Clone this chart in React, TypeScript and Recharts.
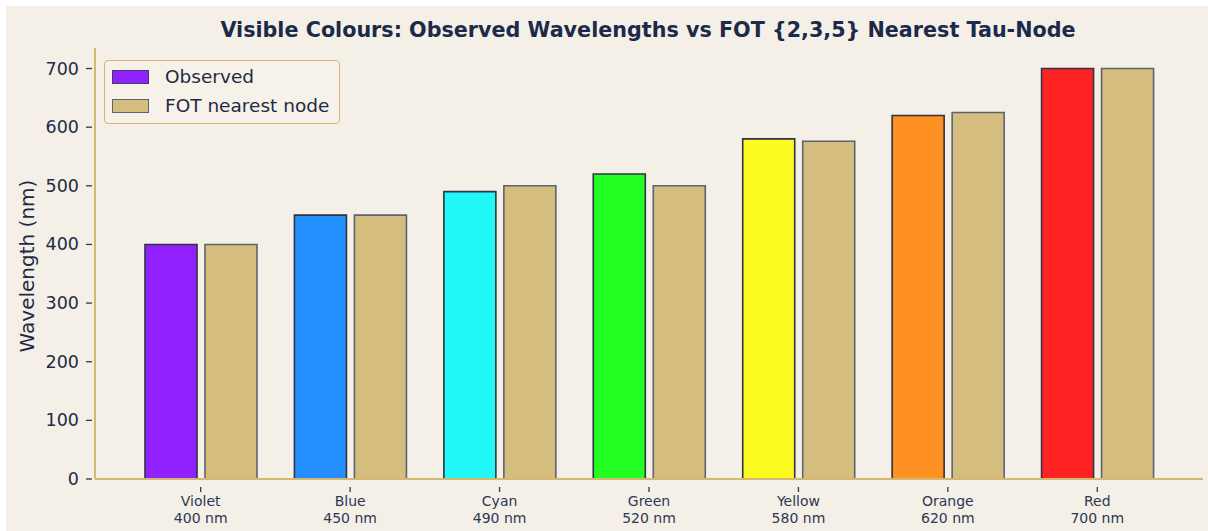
import { BarChart, Bar, XAxis, YAxis, Cell } from 'recharts';

const colourNames = ['Violet', 'Blue', 'Cyan', 'Green', 'Yellow', 'Orange', 'Red'];
const observedNm = [400, 450, 490, 520, 580, 620, 700];
const fotNodeNm = [400, 450, 500, 500, 576, 625, 700];
const observedFills = ['#9122ff', '#2490ff', '#22f7f7', '#22ff22', '#fbfb22', '#ff9122', '#ff2222'];
const yTicks = [0, 100, 200, 300, 400, 500, 600, 700];

const data = colourNames.map((name, i) => ({
    name,
    observed: observedNm[i],
    fot: fotNodeNm[i],
}));

const FONT = '"DejaVu Sans", sans-serif';
const INK = '#1f2a44';
const GOLD = '#d6b870';
const BG = '#f4efe7';
const FOT_FILL = '#d5bd7d';

function XTick(props: any) {
    const { x, y, payload, index } = props;
    return (
        <g transform={`translate(${x},${y})`}>
            <line x1={0} y1={0} x2={0} y2={5} stroke="#2e3852" strokeWidth={1.3} />
            <text textAnchor="middle" fill="#2e3852" fontFamily={FONT} fontSize={14}>
                <tspan x={0} y={19}>{payload.value}</tspan>
                <tspan x={0} y={36}>{`${observedNm[index]} nm`}</tspan>
            </text>
        </g>
    );
}

function YTick(props: any) {
    const { x, y, payload } = props;
    return (
        <g transform={`translate(${x},${y})`}>
            <line x1={-1} y1={0} x2={5} y2={0} stroke="#2e3852" strokeWidth={1.3} />
            <text x={-8} y={6} textAnchor="end" fill={INK} fontFamily={FONT} fontSize={17.5}>
                {payload.value}
            </text>
        </g>
    );
}

function LegendBox() {
    const items = [
        { label: 'Observed', fill: observedFills[0], stroke: '#3a3f55' },
        { label: 'FOT nearest node', fill: FOT_FILL, stroke: '#5c6373' },
    ];
    return (
        <div
            style={{
                position: 'absolute',
                left: 98,
                top: 54,
                width: 236,
                height: 64,
                border: `1.5px solid ${GOLD}`,
                borderRadius: 4,
                background: 'rgba(246,242,234,0.85)',
                boxSizing: 'border-box',
                padding: '1px 0 0 7px',
                fontFamily: FONT,
                fontSize: 18.5,
                color: INK,
                zIndex: 2,
            }}
        >
            {items.map((it) => (
                <div key={it.label} style={{ display: 'flex', alignItems: 'center', height: 29 }}>
                    <div
                        style={{
                            width: 37,
                            height: 14,
                            background: it.fill,
                            border: `1.5px solid ${it.stroke}`,
                            boxSizing: 'border-box',
                            marginRight: 16,
                        }}
                    />
                    <span>{it.label}</span>
                </div>
            ))}
        </div>
    );
}

export default function App() {
    return (
        <div style={{ position: 'absolute', left: 0, top: 0, width: 1208, height: 531, background: '#ffffff' }}>
            <div style={{ position: 'absolute', left: 6, top: 6, width: 1202, height: 525, background: BG }}>
                <div
                    style={{
                        position: 'absolute',
                        left: 0,
                        top: 12,
                        width: 1284,
                        textAlign: 'center',
                        fontFamily: FONT,
                        fontWeight: 'bold',
                        fontSize: 20.7,
                        color: '#1c2a4a',
                    }}
                >
                    Visible Colours: Observed Wavelengths vs FOT {'{2,3,5}'} Nearest Tau-Node
                </div>
                <div style={{ position: 'absolute', left: 21, top: 260, width: 0, height: 0 }}>
                    <div
                        style={{
                            position: 'absolute',
                            transform: 'translate(-50%, -50%) rotate(-90deg)',
                            whiteSpace: 'nowrap',
                            fontFamily: FONT,
                            fontSize: 20,
                            color: INK,
                        }}
                    >
                        Wavelength (nm)
                    </div>
                </div>
                <LegendBox />
                <BarChart
                    width={1202}
                    height={525}
                    data={data}
                    margin={{ top: 42, right: 5, left: 0, bottom: 0 }}
                    barSize={52}
                    barGap={8}
                >
                    <XAxis
                        dataKey="name"
                        height={52}
                        padding={{ left: 31, right: 31 }}
                        axisLine={{ stroke: GOLD, strokeWidth: 2 }}
                        tickLine={false}
                        tick={<XTick />}
                        interval={0}
                    />
                    <YAxis
                        width={89}
                        domain={[0, 735]}
                        ticks={yTicks}
                        allowDataOverflow
                        axisLine={{ stroke: GOLD, strokeWidth: 2 }}
                        tickLine={false}
                        tick={<YTick />}
                    />
                    <Bar dataKey="observed" name="Observed" stroke="#2e3345" strokeWidth={1.6} isAnimationActive={false}>
                        {observedFills.map((c, i) => (
                            <Cell key={i} fill={c} />
                        ))}
                    </Bar>
                    <Bar
                        dataKey="fot"
                        name="FOT nearest node"
                        fill={FOT_FILL}
                        stroke="#5c6373"
                        strokeWidth={1.6}
                        isAnimationActive={false}
                    />
                </BarChart>
            </div>
        </div>
    );
}
